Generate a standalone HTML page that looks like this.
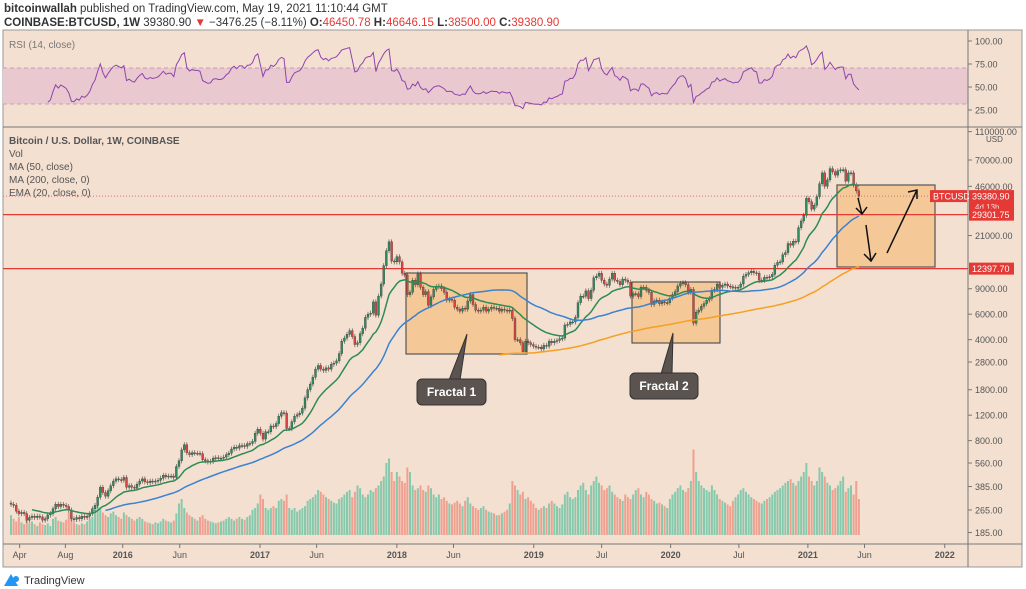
<!DOCTYPE html>
<html><head><meta charset="utf-8"><style>
html,body{margin:0;padding:0;background:#fff;width:1026px;height:589px;overflow:hidden;font-family:"Liberation Sans",sans-serif}
svg{display:block}
text{font-family:"Liberation Sans",sans-serif}
</style></head><body>
<svg id="c" width="1026" height="589" viewBox="0 0 1026 589">
<text x="4" y="12" font-size="11.5" fill="#333"><tspan font-weight="bold">bitcoinwallah</tspan> published on TradingView.com, May 19, 2021 11:10:44 GMT</text>
<text x="4" y="26" font-size="11.5" fill="#333"><tspan font-weight="bold">COINBASE:BTCUSD, 1W</tspan> 39380.90 <tspan fill="#e53935">▼</tspan> −3476.25 (−8.11%) <tspan font-weight="bold">O:</tspan><tspan fill="#e53935">46450.78</tspan> <tspan font-weight="bold">H:</tspan><tspan fill="#e53935">46646.15</tspan> <tspan font-weight="bold">L:</tspan><tspan fill="#e53935">38500.00</tspan> <tspan font-weight="bold">C:</tspan><tspan fill="#e53935">39380.90</tspan></text>
<rect x="3" y="30" width="1019" height="537" fill="#f3e0d1" stroke="#999"/>
<rect x="3" y="68" width="965" height="36" fill="#e9c9cf"/>
<line x1="3" y1="68" x2="968" y2="68" stroke="#c9a0b0" stroke-dasharray="4,3"/>
<line x1="3" y1="104" x2="968" y2="104" stroke="#c9a0b0" stroke-dasharray="4,3"/>
<text x="9" y="48" font-size="10" fill="#777">RSI (14, close)</text>
<line x1="3" y1="127" x2="1022" y2="127" stroke="#777"/>
<line x1="968" y1="30" x2="968" y2="567" stroke="#777"/>
<line x1="3" y1="544" x2="1022" y2="544" stroke="#777"/>
<g font-size="10" fill="#555">
<text x="9" y="144" font-weight="bold">Bitcoin / U.S. Dollar, 1W, COINBASE</text>
<text x="9" y="157">Vol</text><text x="9" y="170">MA (50, close)</text>
<text x="9" y="183">MA (200, close, 0)</text><text x="9" y="196">EMA (20, close, 0)</text>
</g>
<g id="rects"></g>
<g id="vol"></g><g id="cand"></g><g id="lines"></g><g id="ann"></g><g id="ax"></g>
<g>
<path d="M4 586 L11 574 L18 586 Z" fill="#2196f3"/><circle cx="16" cy="579" r="3" fill="#2196f3"/>
<text x="24" y="584" font-size="11" fill="#333">TradingView</text></g>
</svg>
<script>
const closes=[290,285,260,250,255,250,225,235,240,235,240,237,225,230,245,250,270,290,280,290,285,280,265,230,228,235,230,240,235,240,250,270,285,325,380,350,330,360,390,420,435,430,425,
445,380,390,380,375,400,420,435,415,410,420,416,420,425,440,460,450,455,455,445,530,580,690,750,660,640,660,655,655,650,590,580,570,575,605,610,605,605,615,640,655,700,720,710,740,740,730,760,765,790,900,960,
900,820,920,920,1010,1000,1050,1180,1250,1240,970,970,1080,1180,1210,1240,1340,1580,1800,1970,2200,2500,2650,2500,2450,2550,2500,2700,2750,2850,3200,3900,4100,4350,4600,4200,3700,3800,4400,4800,5700,6000,6100,7300,5900,8000,9700,13000,16500,19000,14000,13800,
15000,13800,11500,11200,8200,8500,10300,9600,11400,9200,8200,8600,6900,7900,8900,9300,9400,9000,8500,7500,7600,7500,6700,6500,6300,6600,6500,7400,8200,7000,6400,6300,6400,6700,6300,6500,6700,6600,6600,6300,6500,6400,6300,6400,5600,4000,4000,3800,3300,3900,3800,3700,
3600,3550,3550,3450,3650,3600,3900,3800,3900,3950,4050,4100,5050,5100,5300,5300,5700,7200,8000,8000,8700,7700,8800,10700,11000,11500,10300,9700,9500,10500,11500,10300,10100,9600,10500,10300,10000,8000,8300,8300,7950,9200,9200,8800,8500,7000,7400,7500,7100,7300,7200,7200,
7750,8200,8600,9400,9800,9900,9600,8500,8900,5200,6200,6400,6800,7100,7500,7700,8800,8900,9700,9200,9500,9700,9400,9300,9100,9200,9200,9700,11000,11300,11600,11900,11600,11500,10300,10300,10800,10700,10900,11300,13100,13700,13800,15500,16000,18500,18000,19200,19000,23800,26500,29000,
38000,36000,32000,34000,39000,48000,57000,46000,51000,61000,58000,55000,59000,59800,60000,50000,57000,57000,47000,42800,39380];
const volumes=[22,18,15,20,14,12,16,13,15,12,10,14,12,11,13,10,18,20,16,15,14,17,25,22,14,12,11,13,12,15,18,20,28,35,30,25,22,20,24,26,22,20,18,
25,22,20,18,16,18,20,18,15,14,13,12,14,13,15,18,16,15,14,16,24,35,40,30,25,22,20,18,16,20,22,18,16,15,14,13,14,15,16,18,20,18,16,18,20,18,17,20,22,28,30,35,
45,40,30,28,30,32,30,38,40,38,45,30,28,30,26,28,30,32,38,40,42,45,50,48,45,42,40,38,36,35,40,42,45,48,50,42,48,55,52,45,42,45,50,48,52,55,60,65,80,85,70,60,
70,65,60,58,75,70,55,50,52,55,50,48,55,52,45,42,45,40,42,38,35,34,36,38,35,32,38,42,35,32,30,28,30,32,28,26,25,24,22,22,24,26,28,35,60,55,50,45,48,40,42,38,
35,30,28,30,32,30,35,38,35,32,30,34,45,48,42,40,42,50,55,58,50,45,55,60,65,58,55,50,52,55,48,45,42,40,38,45,42,40,45,50,52,45,42,48,45,40,38,35,36,34,32,30,
40,45,48,52,55,50,48,52,60,95,70,60,55,52,50,48,55,50,45,40,38,36,34,32,38,42,45,50,52,48,45,42,40,38,36,35,38,40,42,45,48,50,52,55,58,60,62,58,55,60,65,70,
80,65,60,55,60,75,70,65,58,55,50,52,55,60,65,48,52,55,45,60,40];
const priceTicks=[110000,70000,46000,21000,9000,6000,4000,2800,1800,1200,800,560,385,265,185];
const rsiTicks=[100,75,50,25];
const timeLabels=["Apr","Aug","2016","Jun","2017","Jun","2018","Jun","2019","Jul","2020","Jul","2021","Jun","2022"];
const timeDates=["2015-04-01","2015-08-01","2016-01-01","2016-06-01","2017-01-01","2017-06-01","2018-01-01","2018-06-01","2019-01-01","2019-07-01","2020-01-01","2020-07-01","2021-01-01","2021-06-01","2022-01-01"];
const levels=[29301.75,12397.70];
const lastPrice=39380.90;

const NS="http://www.w3.org/2000/svg";
const xOf=i=>11+i*2.625;
const yOf=p=>160+(Math.log10(70000)-Math.log10(p))*144.5;
const yR=r=>87-(r-50)*0.92;
const t0=Date.UTC(2015,2,9);
const xDate=s=>xOf((Date.parse(s)-t0)/(7*864e5));
function mk(tag,attrs,parent){const e=document.createElementNS(NS,tag);for(const k in attrs)e.setAttribute(k,attrs[k]);parent.appendChild(e);return e;}
const g=id=>document.getElementById(id);

const R=g('rects');
[[406,273,121,81,'fractal-1-box'],[632,282,88,61,'fractal-2-box'],[837,185,98,82,'projection-box']].forEach(b=>{
 const r=mk('rect',{x:b[0],y:b[1],width:b[2],height:b[3],fill:'#f5c898',stroke:'#555','stroke-width':1.2},R);
 
 
});
levels.forEach((lv,k)=>{
 const l=mk('line',{x1:3,x2:968,y1:yOf(lv),y2:yOf(lv),stroke:'#e53935','stroke-width':1.3},R);
 
 
});
const dl=mk('line',{x1:3,x2:968,y1:yOf(lastPrice),y2:yOf(lastPrice),stroke:'#c77','stroke-dasharray':'1,2'},R);



const V=g('vol');
closes.forEach((c,i)=>{
 const o=i?closes[i-1]:c;const v=volumes[i]||0;
 const b=mk('rect',{x:xOf(i)-1,y:535-v*0.9,width:2,height:v*0.9,fill:c>=o?'#86c9ad':'#f0a090'},V);
 
 
});
const C=g('cand');
closes.forEach((c,i)=>{
 const o=i?closes[i-1]:c*1.02;const up=c>=o;const col=up?'#2f8a5e':'#d64541';
 const hi=Math.max(o,c)*1.04,lo=Math.min(o,c)*0.96;
 const w=mk('line',{x1:xOf(i),x2:xOf(i),y1:yOf(hi),y2:yOf(lo),stroke:'#444','stroke-width':0.6},C);
 
 
 const t=Math.min(yOf(o),yOf(c)),h=Math.max(1,Math.abs(yOf(o)-yOf(c)));
 const b=mk('rect',{x:xOf(i)-1,y:t,width:2,height:h,fill:col,stroke:'#333','stroke-width':0.3},C);
 
 
});
function sma(n,start){return closes.map((_,i)=>{if(i<start)return null;const s=Math.max(0,i-n+1);let a=0;for(let j=s;j<=i;j++)a+=closes[j];return a/(i-s+1);});}
const ema=[];closes.forEach((c,i)=>{ema.push(i?ema[i-1]+(c-ema[i-1])*2/21:c);});
function path(arr,yf){let d='';arr.forEach((v,i)=>{if(v==null)return;d+=(d?'L':'M')+xOf(i).toFixed(1)+' '+yf(v).toFixed(1);});return d;}
const L=g('lines');
[[ema.map((v,i)=>i<8?null:v),'#2e8b57','ema-20-line'],[sma(50,36),'#3b82d0','ma-50-line'],[sma(200,186),'#f5a020','ma-200-line']].forEach(s=>{
 const p=mk('path',{d:path(s[0],yOf),fill:'none',stroke:s[1],'stroke-width':1.5},L);
 
 
});
let ag=0,al=0;const rsi=[null];
for(let i=1;i<closes.length;i++){const d=closes[i]-closes[i-1];const gn=Math.max(d,0),ls=Math.max(-d,0);
 if(i<=14){ag+=gn/14;al+=ls/14;}else{ag=(ag*13+gn)/14;al=(al*13+ls)/14;}
 rsi.push(i<14?null:100-100/(1+ag/(al||1e-9)));}
const rp=mk('path',{d:path(rsi,yR),fill:'none',stroke:'#8e44ad','stroke-width':1},L);



const A=g('ann');
A.innerHTML=`
<g><path d="M449 380 L467 334 L460 380 Z" fill="#5a5350" stroke="#333"/><rect x="417" y="379" width="69" height="26" rx="5" fill="#5a5350" stroke="#333"/><text x="451.5" y="396" font-size="12" font-weight="bold" fill="#fff" text-anchor="middle">Fractal 1</text></g>
<g><path d="M661 374 L673 333 L672 374 Z" fill="#5a5350" stroke="#333"/><rect x="630" y="373" width="68" height="26" rx="5" fill="#5a5350" stroke="#333"/><text x="664" y="390" font-size="12" font-weight="bold" fill="#fff" text-anchor="middle">Fractal 2</text></g>
<g stroke="#111" stroke-width="1.5" fill="none">
<path d="M858 198 L862 214 M856 208 L862 214 L867 207"/>
<path d="M866 225 L871 261 M864 254 L871 261 L876 253"/>
<path d="M887 253 L917 190 M908 192 L917 190 L917 199"/></g>`;

const X=g('ax');
priceTicks.forEach(p=>{const y=yOf(p);
 mk('line',{x1:968,x2:972,y1:y,y2:y,stroke:'#777'},X);
 const t=mk('text',{x:975,y:y+3.5,'font-size':9,fill:'#555'},X);t.textContent=p.toFixed(2);
 
 
});
const usd=mk('text',{x:986,y:142,'font-size':8,fill:'#555'},X);usd.textContent='USD';
rsiTicks.forEach(r=>{const y=yR(r);
 mk('line',{x1:968,x2:972,y1:y,y2:y,stroke:'#777'},X);
 const t=mk('text',{x:975,y:y+3.5,'font-size':9,fill:'#555'},X);t.textContent=r.toFixed(2);
 
 
});
timeLabels.forEach((lb,k)=>{const x=xDate(timeDates[k]);
 mk('line',{x1:x,x2:x,y1:544,y2:548,stroke:'#777'},X);
 const t=mk('text',{x:x,y:558,'font-size':9,fill:'#555','text-anchor':'middle','font-weight':/^\d/.test(lb)?'bold':'normal'},X);t.textContent=lb;
 
 
});
function tag(x,y,w,h,txt,name){const gg=mk('g',{},X);mk('rect',{x:x,y:y,width:w,height:h,fill:'#e53935'},gg);
 const t=mk('text',{x:x+3,y:y+9.5,'font-size':9,fill:'#fff'},gg);t.textContent=txt;
 
 return gg;}
tag(930,yOf(lastPrice)-6,37,12,'BTCUSD','symbol-tag');
const pt=tag(969,yOf(lastPrice)-6,45,22,'39380.90','last-price-tag');
const cd=mk('text',{x:975,y:yOf(lastPrice)+14,'font-size':8,fill:'#fdd'},pt);cd.textContent='4d 13h';
levels.forEach((lv,k)=>tag(969,yOf(lv)-6,45,12,lv.toFixed(2),k?'support-price-tag':'resistance-price-tag'));
</script>
</body></html>
